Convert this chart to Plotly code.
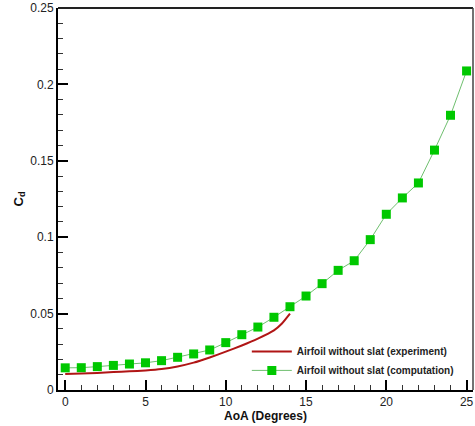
import plotly.graph_objects as go

# Computation data (green squares)
aoa_comp = [0, 1, 2, 3, 4, 5, 6, 7, 8, 9, 10, 11, 12, 13, 14, 15, 16, 17, 18, 19, 20, 21, 22, 23, 24, 25]
cd_comp = [0.0145, 0.0146, 0.0153, 0.0161, 0.0170, 0.0178, 0.0192, 0.0214, 0.0236, 0.0262,
           0.0310, 0.0362, 0.0412, 0.0476, 0.0545, 0.0615, 0.0696, 0.0783, 0.0846, 0.0984,
           0.1150, 0.1257, 0.1355, 0.1570, 0.1798, 0.2088]

# Experiment data (red line)
aoa_exp = [0, 1, 2, 3, 4, 5, 6, 7, 8, 9, 10, 11, 12, 13, 13.5, 14]
cd_exp = [0.0105, 0.0108, 0.0112, 0.0117, 0.0122, 0.0128, 0.0137, 0.0154, 0.0179, 0.0213,
          0.0251, 0.0291, 0.0336, 0.0390, 0.0435, 0.0500]

x_ticks = [0, 5, 10, 15, 20, 25]
y_ticks = [0, 0.05, 0.1, 0.15, 0.2, 0.25]
y_tick_text = ["0", "0.05", "0.1", "0.15", "0.2", "0.25"]

fig = go.Figure()
fig.add_trace(go.Scatter(
    x=aoa_exp, y=cd_exp, mode="lines",
    line=dict(color="#b01515", width=2, shape="spline", smoothing=0.4),
    name="<b>Airfoil without slat (experiment)</b>"))
fig.add_trace(go.Scatter(
    x=aoa_comp, y=cd_comp, mode="lines+markers",
    line=dict(color="#6fbf6f", width=1),
    marker=dict(symbol="square", size=9, color="#00c800", line=dict(width=0)),
    name="<b>Airfoil without slat (computation)</b>"))

fig.update_layout(
    width=475, height=426,
    margin=dict(l=58, r=2, t=8, b=36),
    paper_bgcolor="white", plot_bgcolor="white",
    font=dict(family="Liberation Sans, Arial, sans-serif", color="#222"),
    showlegend=True,
    legend=dict(x=0.455, y=0.139, xanchor="left", yanchor="top",
                bgcolor="rgba(0,0,0,0)", font=dict(size=10, color="#222"),
                itemwidth=40, tracegroupgap=0),
    xaxis=dict(range=[-0.45, 25.4], tickvals=x_ticks, ticks="inside", ticklen=10, tickwidth=2,
               tickcolor="black", showline=True, linecolor="black", linewidth=2,
               showgrid=False, zeroline=False, tickfont=dict(size=12, color="#222"),
               minor=dict(dtick=1, ticks="inside", ticklen=5, tickwidth=1, tickcolor="#333",
                          showgrid=False),
               title=dict(text="<b>AoA (Degrees)</b>", font=dict(size=12, color="#111"), standoff=0)),
    yaxis=dict(range=[0, 0.25], tickvals=y_ticks, ticktext=y_tick_text, ticks="inside",
               ticklen=10, tickwidth=2, tickcolor="black", showline=True, linecolor="black",
               linewidth=2, showgrid=False, zeroline=False, tickfont=dict(size=12, color="#222"),
               minor=dict(dtick=0.01, ticks="inside", ticklen=5, tickwidth=1, tickcolor="#333",
                          showgrid=False),
               title=dict(text="<b>C<sub>d</sub></b>", font=dict(size=13, color="#111"), standoff=4)),
)

# top and right frame lines
fig.add_shape(type="line", xref="paper", yref="paper", x0=0, x1=1, y0=1, y1=1,
              line=dict(color="#222", width=2))
fig.add_shape(type="line", xref="paper", yref="paper", x0=1, x1=1, y0=0, y1=1,
              line=dict(color="#444", width=1.5))

fig.write_html("out.html")
